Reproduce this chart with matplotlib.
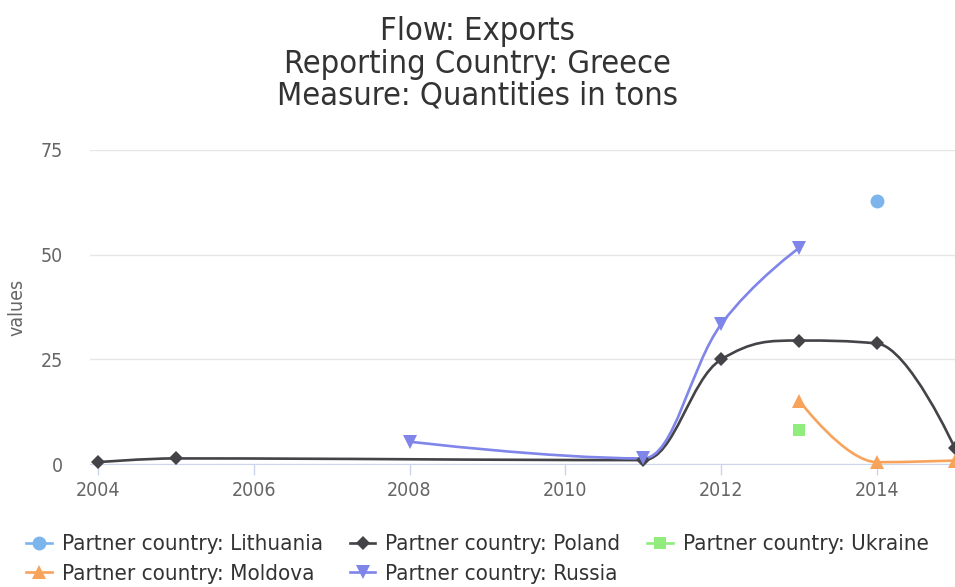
import matplotlib
matplotlib.use("Agg")
import matplotlib.pyplot as plt
from matplotlib.path import Path
from matplotlib.patches import PathPatch
from matplotlib.lines import Line2D

plt.rcParams["font.family"] = "DejaVu Sans"
plt.rcParams["font.stretch"] = "condensed"

# data
lithuania_x = [2014]
lithuania_y = [62.8]
poland_x = [2004, 2005, 2011, 2012, 2013, 2014, 2015]
poland_y = [0.5, 1.4, 1.0, 25.0, 29.5, 28.8, 3.8]
ukraine_x = [2013]
ukraine_y = [8.2]
moldova_x = [2013, 2014, 2015]
moldova_y = [15.2, 0.5, 0.9]
russia_x = [2008, 2011, 2012, 2013]
russia_y = [5.4, 1.4, 33.4, 51.6]

series = [
    ("Partner country: Lithuania", lithuania_x, lithuania_y, "#7cb5ec", "o", 10),
    ("Partner country: Poland", poland_x, poland_y, "#434348", "D", 7.5),
    ("Partner country: Ukraine", ukraine_x, ukraine_y, "#90ed7d", "s", 9),
    ("Partner country: Moldova", moldova_x, moldova_y, "#f7a35c", "^", 10),
    ("Partner country: Russia", russia_x, russia_y, "#8085e9", "v", 10),
]


def spline_path(xs, ys, smoothing=1.5):
    """Highcharts-style spline as a cubic bezier path."""
    pts = list(zip(xs, ys))
    m = len(pts)
    left = [None] * m
    right = [None] * m
    d = smoothing + 1
    for i in range(1, m - 1):
        lx, ly = pts[i - 1]
        px, py = pts[i]
        nx, ny = pts[i + 1]
        lcx, lcy = (smoothing * px + lx) / d, (smoothing * py + ly) / d
        rcx, rcy = (smoothing * px + nx) / d, (smoothing * py + ny) / d
        if rcx != lcx:
            corr = (rcy - lcy) * (rcx - px) / (rcx - lcx) + py - rcy
            lcy += corr
            rcy += corr
        if lcy > ly and lcy > py:
            lcy = max(ly, py); rcy = 2 * py - lcy
        elif lcy < ly and lcy < py:
            lcy = min(ly, py); rcy = 2 * py - lcy
        if rcy > ny and rcy > py:
            rcy = max(ny, py); lcy = 2 * py - rcy
        elif rcy < ny and rcy < py:
            rcy = min(ny, py); lcy = 2 * py - rcy
        left[i] = (lcx, lcy)
        right[i] = (rcx, rcy)
    verts = [pts[0]]
    codes = [Path.MOVETO]
    for i in range(1, m):
        c1 = right[i - 1] or pts[i - 1]
        c2 = left[i] or pts[i]
        verts += [c1, c2, pts[i]]
        codes += [Path.CURVE4] * 3
    return Path(verts, codes)


fig = plt.figure(figsize=(9.55, 5.87), dpi=100)
ax = fig.add_axes([90 / 955, 122.7 / 587, 865 / 955, 314.6 / 587])

handles = []
for name, xs, ys, color, mk, ms in series:
    if len(xs) > 1:
        ax.add_patch(PathPatch(spline_path(xs, ys), fill=False, edgecolor=color,
                               linewidth=1.9, zorder=3, clip_on=False))
    ax.plot(xs, ys, linestyle="none", marker=mk, markersize=ms, color=color,
            markeredgewidth=0, zorder=4, clip_on=False)
    handles.append(Line2D([], [], color=color, linewidth=1.9, marker=mk,
                          markersize=ms, markeredgewidth=0, label=name))

ax.set_xlim(2003.9, 2015.0)
ax.set_ylim(0, 75)
ax.set_yticks([0, 25, 50, 75])
ax.set_xticks([2004, 2006, 2008, 2010, 2012, 2014])
ax.grid(axis="y", color="#e6e6e6", linewidth=1)
ax.set_axisbelow(True)
for side in ["top", "right", "left"]:
    ax.spines[side].set_visible(False)
ax.spines["bottom"].set_color("#ccd6eb")
ax.tick_params(axis="y", length=0, pad=19.5, labelsize=14, labelcolor="#666666")
ax.tick_params(axis="x", length=8, color="#ccd6eb", width=1, pad=4,
               labelsize=14, labelcolor="#666666")
ax.set_ylabel("values", fontsize=14, color="#666666")
ax.yaxis.set_label_coords(-64 / 865, 0.5)

fig.text(0.5, 1 - 64 / 587, "Flow: Exports\nReporting Country: Greece\nMeasure: Quantities in tons",
         ha="center", va="center", fontsize=23.4, color="#333333", linespacing=1.05)

order = [0, 3, 1, 4, 2]
fig.legend([handles[i] for i in order], [handles[i].get_label() for i in order],
           ncol=3, loc="center", bbox_to_anchor=(0.5, 1 - 559 / 587),
           frameon=False, fontsize=16, handlelength=1.15, handletextpad=0.45,
           columnspacing=1.2, labelspacing=0.42, labelcolor="#333333",
           borderpad=0, borderaxespad=0)

fig.savefig("out.png", dpi=100)
